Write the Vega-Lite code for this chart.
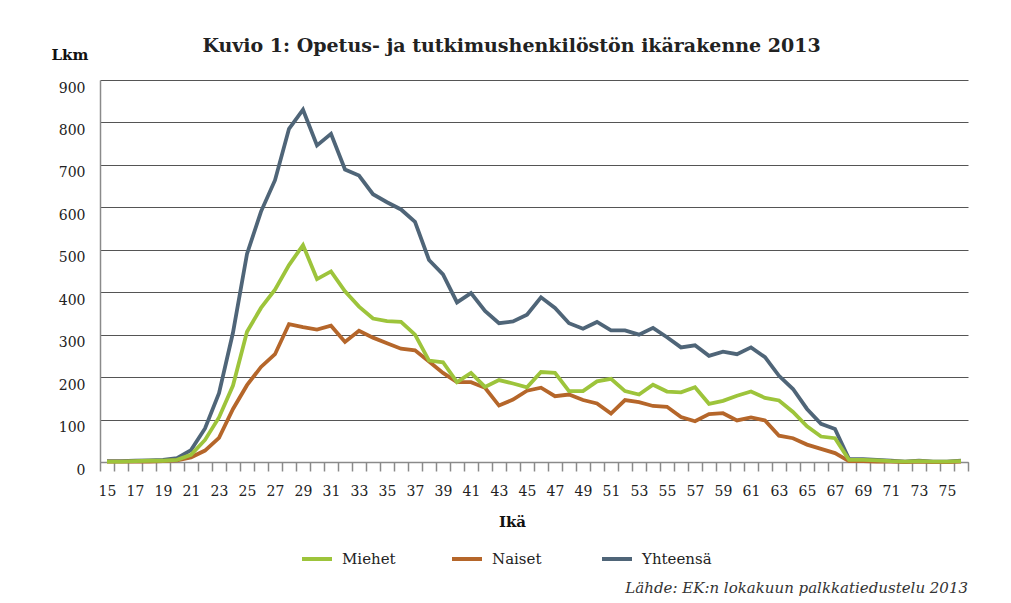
{
  "$schema": "https://vega.github.io/schema/vega-lite/v6.json",
  "width": 868,
  "height": 382,
  "autosize": {"type": "none"},
  "padding": {"left": 100, "top": 80, "right": 43, "bottom": 141},
  "background": "white",
  "config": {
    "view": {"stroke": null},
    "font": "DejaVu Serif"
  },
  "title": {
    "text": "Lähde: EK:n lokakuun palkkatiedustelu 2013",
    "orient": "bottom",
    "anchor": "end",
    "frame": "group",
    "font": "DejaVu Serif",
    "fontStyle": "italic",
    "fontWeight": "normal",
    "fontSize": 15,
    "color": "#333333",
    "offset": 14
  },
  "data": {
    "values": [
      {"age": 15, "Miehet": 1, "Naiset": 1, "Yhteensä": 2},
      {"age": 16, "Miehet": 1, "Naiset": 1, "Yhteensä": 2},
      {"age": 17, "Miehet": 2, "Naiset": 1, "Yhteensä": 3},
      {"age": 18, "Miehet": 3, "Naiset": 1, "Yhteensä": 4},
      {"age": 19, "Miehet": 3, "Naiset": 2, "Yhteensä": 5},
      {"age": 20, "Miehet": 5, "Naiset": 4, "Yhteensä": 9},
      {"age": 21, "Miehet": 17, "Naiset": 11, "Yhteensä": 28},
      {"age": 22, "Miehet": 52, "Naiset": 27, "Yhteensä": 79},
      {"age": 23, "Miehet": 105, "Naiset": 57, "Yhteensä": 162},
      {"age": 24, "Miehet": 180, "Naiset": 125, "Yhteensä": 305},
      {"age": 25, "Miehet": 307, "Naiset": 181, "Yhteensä": 490},
      {"age": 26, "Miehet": 363, "Naiset": 224, "Yhteensä": 590},
      {"age": 27, "Miehet": 406, "Naiset": 254, "Yhteensä": 664},
      {"age": 28, "Miehet": 464, "Naiset": 325, "Yhteensä": 785},
      {"age": 29, "Miehet": 511, "Naiset": 318, "Yhteensä": 830},
      {"age": 30, "Miehet": 431, "Naiset": 312, "Yhteensä": 746},
      {"age": 31, "Miehet": 449, "Naiset": 321, "Yhteensä": 773},
      {"age": 32, "Miehet": 402, "Naiset": 283, "Yhteensä": 689},
      {"age": 33, "Miehet": 366, "Naiset": 309, "Yhteensä": 675},
      {"age": 34, "Miehet": 338, "Naiset": 293, "Yhteensä": 631},
      {"age": 35, "Miehet": 332, "Naiset": 280, "Yhteensä": 612},
      {"age": 36, "Miehet": 330, "Naiset": 267, "Yhteensä": 595},
      {"age": 37, "Miehet": 300, "Naiset": 263, "Yhteensä": 566},
      {"age": 38, "Miehet": 239, "Naiset": 237, "Yhteensä": 476},
      {"age": 39, "Miehet": 235, "Naiset": 210, "Yhteensä": 442},
      {"age": 40, "Miehet": 188, "Naiset": 188, "Yhteensä": 376},
      {"age": 41, "Miehet": 210, "Naiset": 188, "Yhteensä": 398},
      {"age": 42, "Miehet": 177, "Naiset": 175, "Yhteensä": 356},
      {"age": 43, "Miehet": 193, "Naiset": 133, "Yhteensä": 327},
      {"age": 44, "Miehet": 185, "Naiset": 147, "Yhteensä": 331},
      {"age": 45, "Miehet": 176, "Naiset": 168, "Yhteensä": 347},
      {"age": 46, "Miehet": 212, "Naiset": 175, "Yhteensä": 388},
      {"age": 47, "Miehet": 210, "Naiset": 155, "Yhteensä": 363},
      {"age": 48, "Miehet": 167, "Naiset": 159, "Yhteensä": 327},
      {"age": 49, "Miehet": 167, "Naiset": 146, "Yhteensä": 314},
      {"age": 50, "Miehet": 190, "Naiset": 138, "Yhteensä": 330},
      {"age": 51, "Miehet": 196, "Naiset": 114, "Yhteensä": 310},
      {"age": 52, "Miehet": 167, "Naiset": 146, "Yhteensä": 310},
      {"age": 53, "Miehet": 159, "Naiset": 141, "Yhteensä": 300},
      {"age": 54, "Miehet": 182, "Naiset": 132, "Yhteensä": 316},
      {"age": 55, "Miehet": 166, "Naiset": 130, "Yhteensä": 294},
      {"age": 56, "Miehet": 164, "Naiset": 106, "Yhteensä": 270},
      {"age": 57, "Miehet": 176, "Naiset": 96, "Yhteensä": 275},
      {"age": 58, "Miehet": 137, "Naiset": 113, "Yhteensä": 250},
      {"age": 59, "Miehet": 144, "Naiset": 115, "Yhteensä": 260},
      {"age": 60, "Miehet": 156, "Naiset": 98, "Yhteensä": 254},
      {"age": 61, "Miehet": 166, "Naiset": 105, "Yhteensä": 270},
      {"age": 62, "Miehet": 151, "Naiset": 98, "Yhteensä": 247},
      {"age": 63, "Miehet": 145, "Naiset": 62, "Yhteensä": 203},
      {"age": 64, "Miehet": 118, "Naiset": 56, "Yhteensä": 172},
      {"age": 65, "Miehet": 84, "Naiset": 41, "Yhteensä": 125},
      {"age": 66, "Miehet": 60, "Naiset": 31, "Yhteensä": 90},
      {"age": 67, "Miehet": 56, "Naiset": 21, "Yhteensä": 78},
      {"age": 68, "Miehet": 5, "Naiset": 2, "Yhteensä": 7},
      {"age": 69, "Miehet": 5, "Naiset": 2, "Yhteensä": 7},
      {"age": 70, "Miehet": 4, "Naiset": 1, "Yhteensä": 5},
      {"age": 71, "Miehet": 2, "Naiset": 1, "Yhteensä": 3},
      {"age": 72, "Miehet": 1, "Naiset": 0, "Yhteensä": 1},
      {"age": 73, "Miehet": 2, "Naiset": 1, "Yhteensä": 3},
      {"age": 74, "Miehet": 1, "Naiset": 0, "Yhteensä": 1},
      {"age": 75, "Miehet": 1, "Naiset": 0, "Yhteensä": 1},
      {"age": 76, "Miehet": 2, "Naiset": 1, "Yhteensä": 3}
    ]
  },
  "layer": [
    {
      "transform": [
        {"fold": ["Yhteensä", "Naiset", "Miehet"], "as": ["sarja", "lkm"]}
      ],
      "mark": {"type": "line", "strokeWidth": 3.8, "strokeJoin": "miter"},
      "encoding": {
        "x": {
          "field": "age",
          "type": "quantitative",
          "scale": {"domain": [14.5, 76.5], "nice": false, "zero": false},
          "axis": {
            "orient": "bottom",
            "title": "Ikä",
            "titleFont": "DejaVu Serif",
            "titleFontSize": 15,
            "titleFontWeight": "bold",
            "titleColor": "#111111",
            "titleX": 412,
            "titleY": 59,
            "titleAlign": "center",
            "titleBaseline": "middle",
            "values": [14.5, 15.5, 16.5, 17.5, 18.5, 19.5, 20.5, 21.5, 22.5, 23.5, 24.5, 25.5, 26.5, 27.5, 28.5, 29.5, 30.5, 31.5, 32.5, 33.5, 34.5, 35.5, 36.5, 37.5, 38.5, 39.5, 40.5, 41.5, 42.5, 43.5, 44.5, 45.5, 46.5, 47.5, 48.5, 49.5, 50.5, 51.5, 52.5, 53.5, 54.5, 55.5, 56.5, 57.5, 58.5, 59.5, 60.5, 61.5, 62.5, 63.5, 64.5, 65.5, 66.5, 67.5, 68.5, 69.5, 70.5, 71.5, 72.5, 73.5, 74.5, 75.5, 76.5, 15, 17, 19, 21, 23, 25, 27, 29, 31, 33, 35, 37, 39, 41, 43, 45, 47, 49, 51, 53, 55, 57, 59, 61, 63, 65, 67, 69, 71, 73, 75],
            "labelExpr": "datum.value % 2 == 1 ? format(datum.value, 'd') : ''",
            "labelOverlap": false,
            "labelFlush": false,
            "labelFont": "DejaVu Serif",
            "labelFontSize": 14,
            "labelColor": "#222222",
            "labelPadding": 13,
            "grid": false,
            "domainColor": "#8a8a8a",
            "domainWidth": 1.5,
            "tickColor": "#8a8a8a",
            "tickWidth": 1.5,
            "tickSize": 9,
            "tickOpacity": {"condition": {"test": "datum.value % 1 == 0", "value": 0}, "value": 1}
          }
        },
        "y": {
          "field": "lkm",
          "type": "quantitative",
          "scale": {"domain": [0, 900], "nice": false},
          "axis": {
            "title": "Lkm",
            "titleAngle": 0,
            "titleAlign": "left",
            "titleBaseline": "middle",
            "titleX": -49,
            "titleY": -26,
            "titleFont": "DejaVu Serif",
            "titleFontSize": 15,
            "titleFontWeight": "bold",
            "titleColor": "#111111",
            "values": [0, 100, 200, 300, 400, 500, 600, 700, 800, 900],
            "labelFont": "DejaVu Serif",
            "labelFontSize": 14,
            "labelColor": "#222222",
            "labelPadding": 15,
            "labelOffset": 8,
            "ticks": false,
            "grid": true,
            "gridColor": "#555555",
            "gridWidth": 1,
            "domainColor": "#8a8a8a",
            "domainWidth": 1.5
          }
        },
        "color": {
          "field": "sarja",
          "type": "nominal",
          "scale": {
            "domain": ["Miehet", "Naiset", "Yhteensä"],
            "range": ["#9DC43B", "#B5662A", "#4F6578"]
          },
          "legend": {
            "orient": "none",
            "legendX": 200,
            "legendY": 462,
            "direction": "horizontal",
            "title": null,
            "symbolType": "stroke",
            "symbolStrokeWidth": 4,
            "symbolSize": 900,
            "labelFont": "DejaVu Serif",
            "labelFontSize": 15,
            "labelColor": "#222222",
            "labelOffset": 8,
            "columnPadding": 32,
            "gridAlign": "all"
          }
        }
      }
    },
    {
      "mark": {"type": "rule", "opacity": 0},
      "encoding": {
        "x": {
          "field": "age",
          "type": "quantitative",
          "axis": {
            "orient": "top",
            "title": "Kuvio 1: Opetus- ja tutkimushenkilöstön ikärakenne 2013",
            "titleFont": "DejaVu Serif",
            "titleFontSize": 19,
            "titleFontWeight": "bold",
            "titleColor": "#222222",
            "titleX": 411,
            "titleY": -35,
            "titleAlign": "center",
            "titleBaseline": "middle",
            "domain": false,
            "ticks": false,
            "labels": false,
            "grid": false
          }
        }
      }
    }
  ]
}
